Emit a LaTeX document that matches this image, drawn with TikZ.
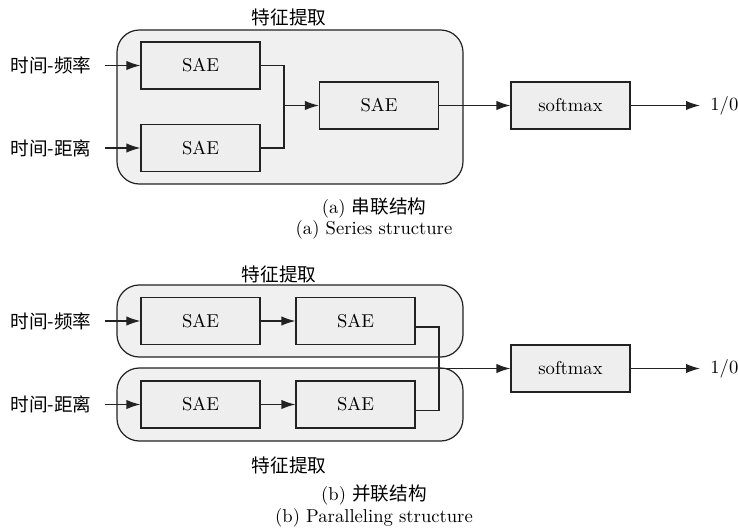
\documentclass[tikz,border=0pt]{standalone}
\usepackage{fontspec}
\newfontfamily\cjk{Noto Sans CJK SC}
\usetikzlibrary{arrows.meta}
\definecolor{boxgray}{HTML}{EEEEEE}
\definecolor{groupgray}{HTML}{F0F0F0}
\definecolor{ink}{HTML}{222222}
\begin{document}
\begin{tikzpicture}[x=0.537pt,y=-0.537pt,
  sae/.style={draw=ink, fill=boxgray, line width=0.65pt, minimum width=63.9pt, minimum height=25.2pt, inner sep=0pt},
  group/.style={draw=ink, fill=groupgray, line width=0.65pt, rounded corners=12pt, inner sep=0pt},
  conn/.style={draw=ink, line width=0.65pt},
  arr/.style={conn, -{Latex[length=7.5pt,width=5pt]}},
  inlbl/.style={anchor=east, inner xsep=7pt, inner ysep=0pt},
  outlbl/.style={anchor=west, inner xsep=5.4pt, inner ysep=0pt},
  title/.style={inner sep=0pt}
]
\useasboundingbox (0,0) rectangle (738,530);

% ---------- (a) series ----------
\node[group, minimum width=185.8pt, minimum height=82.7pt] (ga) at (290,107) {};
\node[title] (ta) at (289,17) {\cjk 特征提取};
\node[sae] (a1) at (200.5,65.5) {SAE};
\node[sae] (a2) at (200.5,148) {SAE};
\node[sae] (a3) at (379,105.5) {SAE};
\node[sae] (asm) at (570.5,105.5) {softmax};
\node[inlbl] (ain1) at (105,65.5) {\cjk 时间-频率};
\node[inlbl] (ain2) at (105,148) {\cjk 时间-距离};
\node[outlbl] (aout) at (700,105.5) {1/0};
\coordinate (aj) at (284,105.5);
\draw[arr] (ain1) -- (a1);
\draw[arr] (ain2) -- (a2);
\draw[conn] (a1.east) -| (aj);
\draw[conn] (a2.east) -| (aj);
\draw[arr] (aj) -- (a3);
\draw[arr] (a3) -- (asm);
\draw[arr] (asm) -- (aout);
\node[title] (ca1) at (374,208) {(a) {\cjk 串联结构}};
\node[title] (ca2) at (374,230) {(a) Series structure};

% ---------- (b) parallel ----------
\node[group, minimum width=185.8pt, minimum height=38.7pt] (gb1) at (290,321) {};
\node[group, minimum width=185.8pt, minimum height=39.2pt] (gb2) at (290,404.5) {};
\node[title] (tb1) at (279,274) {\cjk 特征提取};
\node[title] (tb2) at (289,465) {\cjk 特征提取};
\node[sae] (b11) at (200.5,321) {SAE};
\node[sae] (b12) at (355.5,321) {SAE};
\node[sae] (b21) at (200.5,404.5) {SAE};
\node[sae] (b22) at (355.5,404.5) {SAE};
\node[sae] (bsm) at (570.5,368.5) {softmax};
\node[inlbl] (bin1) at (105,321) {\cjk 时间-频率};
\node[inlbl] (bin2) at (105,404.5) {\cjk 时间-距离};
\node[outlbl] (bout) at (700,368.5) {1/0};
\coordinate (bj) at (439,368.5);
\draw[arr] (bin1) -- (b11);
\draw[arr] (bin2) -- (b21);
\draw[arr] (b11) -- (b12);
\draw[arr] (b21) -- (b22);
\draw[conn] ([yshift=-3.2pt]b12.east) -| (bj) |- ([yshift=-3.2pt]b22.east);
\draw[arr] (bj) -- (bsm);
\draw[arr] (bsm) -- (bout);
\node[title] (cb1) at (374,495) {(b) {\cjk 并联结构}};
\node[title] (cb2) at (374,518) {(b) Paralleling structure};
\end{tikzpicture}
\end{document}
